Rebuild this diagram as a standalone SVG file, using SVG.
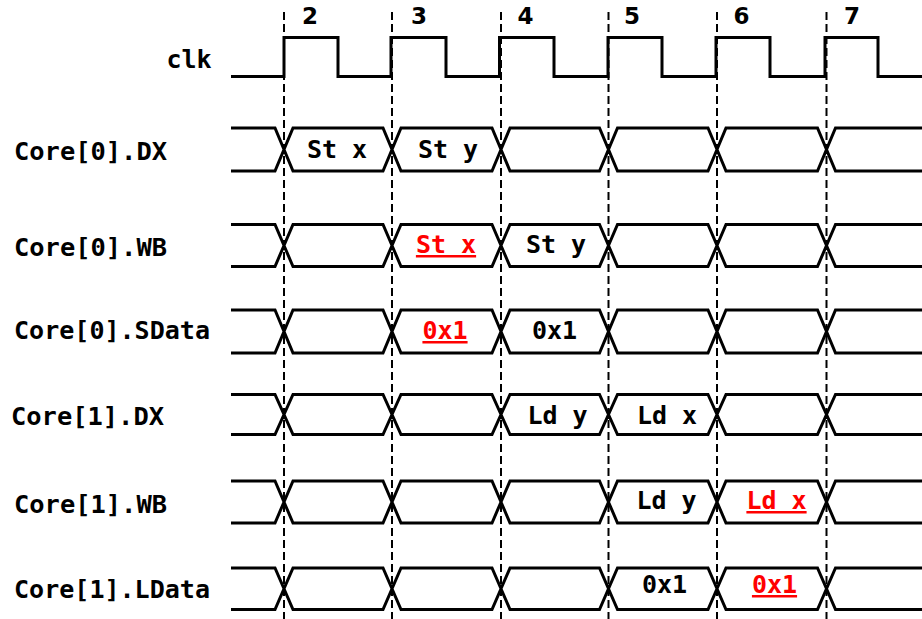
<svg xmlns="http://www.w3.org/2000/svg" width="922" height="619" viewBox="0 0 922 619">
  <style>
    .wave { fill: none; stroke: #000; stroke-width: 3; stroke-linejoin: miter; stroke-linecap: butt; }
    .grid { fill: none; stroke: #000; stroke-width: 2; stroke-dasharray: 8 4; }
    .label { font-family: "DejaVu Sans Mono", "Liberation Mono", monospace; font-weight: bold; font-size: 24px; fill: #000; }
    .val { font-family: "DejaVu Sans Mono", "Liberation Mono", monospace; font-weight: bold; font-size: 25px; fill: #000; text-anchor: middle; }
    .hot { fill: #ff0000; text-decoration: underline; }
    .cyc { font-family: "DejaVu Sans", "Liberation Sans", sans-serif; font-weight: bold; font-size: 23px; fill: #000; text-anchor: middle; }
  </style>
  <rect width="922" height="619" fill="#fff"/>

  <!-- clock-edge guide lines -->
  <g id="connectors">
    <line class="grid" x1="284" y1="12" x2="284" y2="619"/>
    <line class="grid" x1="392" y1="12" x2="392" y2="619"/>
    <line class="grid" x1="501" y1="12" x2="501" y2="619"/>
    <line class="grid" x1="608.5" y1="12" x2="608.5" y2="619"/>
    <line class="grid" x1="717" y1="12" x2="717" y2="619"/>
    <line class="grid" x1="826.5" y1="12" x2="826.5" y2="619"/>
  </g>

  <!-- cycle numbers -->
  <g id="cycles">
    <text class="cyc" x="310" y="24">2</text>
    <text class="cyc" x="419" y="24">3</text>
    <text class="cyc" x="525.5" y="24">4</text>
    <text class="cyc" x="632" y="24">5</text>
    <text class="cyc" x="741.5" y="24">6</text>
    <text class="cyc" x="852" y="24">7</text>
  </g>

  <!-- clock -->
  <g id="clk">
    <text class="val" x="189" y="68">clk</text>
    <path class="wave" d="M231,76.5 H284 V37.5 H338 V76.5 H391 V37.5 H446 V76.5 H499.5 V37.5 H554 V76.5 H608 V37.5 H662 V76.5 H716 V37.5 H770 V76.5 H825 V37.5 H878 V76.5 H922"/>
  </g>

  <!-- Core[0].DX : T=128 B=171 M=149.5 -->
  <g id="core0-dx">
    <text class="label" x="14" y="160" textLength="153" lengthAdjust="spacingAndGlyphs">Core[0].DX</text>
    <path class="wave" d="M231,128 H275 L284,149.5 L275,171 H231
      M293,128 H383 L392,149.5 L383,171 H293 L284,149.5 Z
      M401,128 H492 L501,149.5 L492,171 H401 L392,149.5 Z
      M510,128 H599.5 L608.5,149.5 L599.5,171 H510 L501,149.5 Z
      M617.5,128 H708 L717,149.5 L708,171 H617.5 L608.5,149.5 Z
      M726,128 H817.5 L826.5,149.5 L817.5,171 H726 L717,149.5 Z
      M922,128 H835.5 L826.5,149.5 L835.5,171 H922"/>
    <text class="val" x="337" y="158">St x</text>
    <text class="val" x="448" y="158">St y</text>
  </g>

  <!-- Core[0].WB : T=224.5 B=266.5 M=245.5 -->
  <g id="core0-wb">
    <text class="label" x="14" y="256" textLength="153" lengthAdjust="spacingAndGlyphs">Core[0].WB</text>
    <path class="wave" d="M231,224.5 H275 L284,245.5 L275,266.5 H231
      M293,224.5 H383 L392,245.5 L383,266.5 H293 L284,245.5 Z
      M401,224.5 H492 L501,245.5 L492,266.5 H401 L392,245.5 Z
      M510,224.5 H599.5 L608.5,245.5 L599.5,266.5 H510 L501,245.5 Z
      M617.5,224.5 H708 L717,245.5 L708,266.5 H617.5 L608.5,245.5 Z
      M726,224.5 H817.5 L826.5,245.5 L817.5,266.5 H726 L717,245.5 Z
      M922,224.5 H835.5 L826.5,245.5 L835.5,266.5 H922"/>
    <text class="val hot" x="446" y="253">St x</text>
    <text class="val" x="556" y="253">St y</text>
  </g>

  <!-- Core[0].SData : T=310 B=353 M=331.5 -->
  <g id="core0-sdata">
    <text class="label" x="14" y="339" textLength="196" lengthAdjust="spacingAndGlyphs">Core[0].SData</text>
    <path class="wave" d="M231,310 H275 L284,331.5 L275,353 H231
      M293,310 H383 L392,331.5 L383,353 H293 L284,331.5 Z
      M401,310 H492 L501,331.5 L492,353 H401 L392,331.5 Z
      M510,310 H599.5 L608.5,331.5 L599.5,353 H510 L501,331.5 Z
      M617.5,310 H708 L717,331.5 L708,353 H617.5 L608.5,331.5 Z
      M726,310 H817.5 L826.5,331.5 L817.5,353 H726 L717,331.5 Z
      M922,310 H835.5 L826.5,331.5 L835.5,353 H922"/>
    <text class="val hot" x="445" y="339">0x1</text>
    <text class="val" x="554.5" y="339">0x1</text>
  </g>

  <!-- Core[1].DX : T=394.5 B=434.5 M=414.5 -->
  <g id="core1-dx">
    <text class="label" x="11" y="425" textLength="153" lengthAdjust="spacingAndGlyphs">Core[1].DX</text>
    <path class="wave" d="M231,394.5 H275 L284,414.5 L275,434.5 H231
      M293,394.5 H383 L392,414.5 L383,434.5 H293 L284,414.5 Z
      M401,394.5 H492 L501,414.5 L492,434.5 H401 L392,414.5 Z
      M510,394.5 H599.5 L608.5,414.5 L599.5,434.5 H510 L501,414.5 Z
      M617.5,394.5 H708 L717,414.5 L708,434.5 H617.5 L608.5,414.5 Z
      M726,394.5 H817.5 L826.5,414.5 L817.5,434.5 H726 L717,414.5 Z
      M922,394.5 H835.5 L826.5,414.5 L835.5,434.5 H922"/>
    <text class="val" x="557.5" y="424">Ld y</text>
    <text class="val" x="667" y="424">Ld x</text>
  </g>

  <!-- Core[1].WB : T=481 B=523 M=502 -->
  <g id="core1-wb">
    <text class="label" x="14" y="513" textLength="153" lengthAdjust="spacingAndGlyphs">Core[1].WB</text>
    <path class="wave" d="M231,481 H275 L284,502 L275,523 H231
      M293,481 H383 L392,502 L383,523 H293 L284,502 Z
      M401,481 H492 L501,502 L492,523 H401 L392,502 Z
      M510,481 H599.5 L608.5,502 L599.5,523 H510 L501,502 Z
      M617.5,481 H708 L717,502 L708,523 H617.5 L608.5,502 Z
      M726,481 H817.5 L826.5,502 L817.5,523 H726 L717,502 Z
      M922,481 H835.5 L826.5,502 L835.5,523 H922"/>
    <text class="val" x="666.5" y="509">Ld y</text>
    <text class="val hot" x="776.5" y="509">Ld x</text>
  </g>

  <!-- Core[1].LData : T=568 B=609.5 M=588.75 -->
  <g id="core1-ldata">
    <text class="label" x="14" y="598" textLength="196" lengthAdjust="spacingAndGlyphs">Core[1].LData</text>
    <path class="wave" d="M231,568 H275 L284,588.75 L275,609.5 H231
      M293,568 H383 L392,588.75 L383,609.5 H293 L284,588.75 Z
      M401,568 H492 L501,588.75 L492,609.5 H401 L392,588.75 Z
      M510,568 H599.5 L608.5,588.75 L599.5,609.5 H510 L501,588.75 Z
      M617.5,568 H708 L717,588.75 L708,609.5 H617.5 L608.5,588.75 Z
      M726,568 H817.5 L826.5,588.75 L817.5,609.5 H726 L717,588.75 Z
      M922,568 H835.5 L826.5,588.75 L835.5,609.5 H922"/>
    <text class="val" x="664.5" y="593">0x1</text>
    <text class="val hot" x="774.5" y="593">0x1</text>
  </g>
</svg>
